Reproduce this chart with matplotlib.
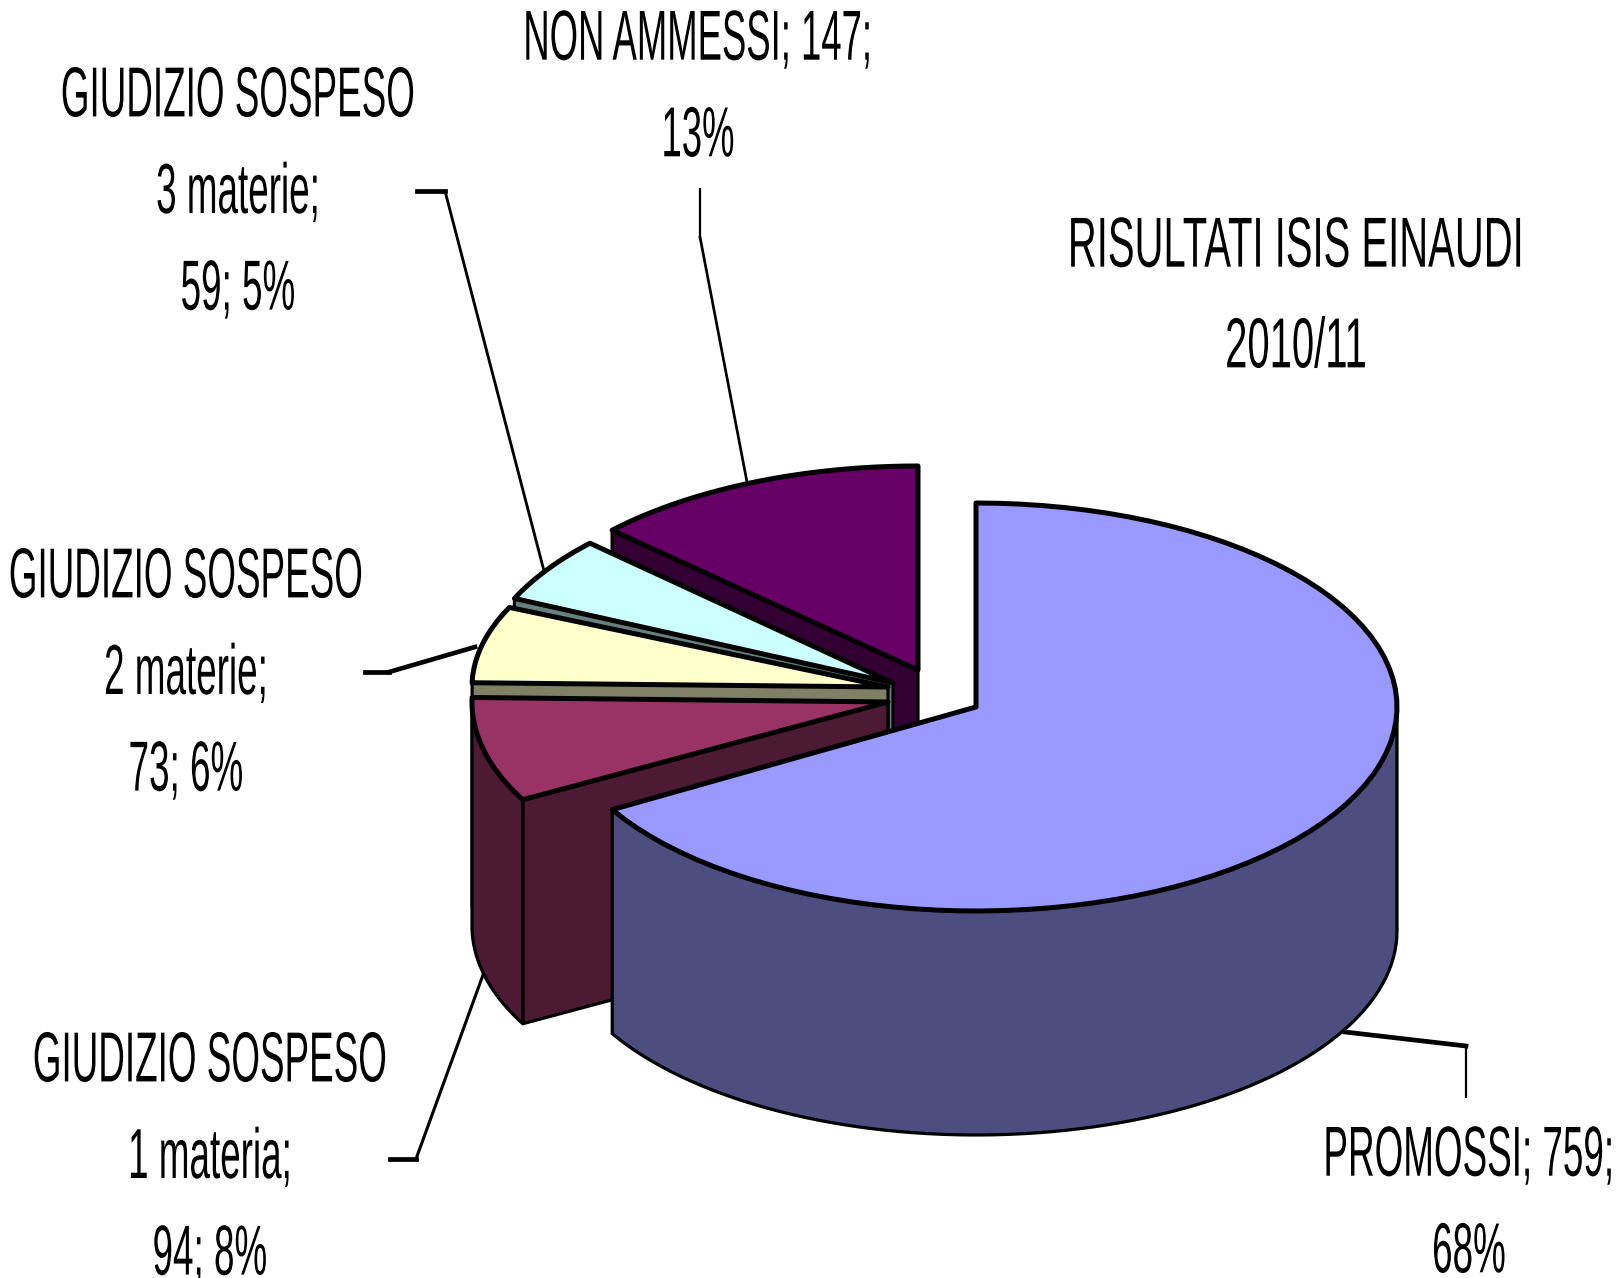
import numpy as np
import matplotlib
matplotlib.use("Agg")
import matplotlib.pyplot as plt
import matplotlib.patheffects as pe
from matplotlib.text import Text
from matplotlib.transforms import Affine2D, Bbox

# data
categories = ["PROMOSSI", "GIUDIZIO SOSPESO\n1 materia", "GIUDIZIO SOSPESO\n2 materie",
              "GIUDIZIO SOSPESO\n3 materie", "NON AMMESSI"]
values = [759, 94, 73, 59, 147]
percents = [68, 8, 6, 5, 13]
title_lines = ["RISULTATI ISIS EINAUDI", "2010/11"]

# look of the slices, same order as values
top_colors = ["#9999FF", "#993366", "#FFFFCC", "#CCFFFF", "#660066"]
side_colors = ["#4D4D80", "#4D1A33", "#808066", "#668080", "#330033"]
centers = [(976, 707), (888, 702), (888, 687), (893, 683), (918, 670)]
radii = [(421, 204), (416, 204), (416, 192), (416, 204), (420, 204)]
DEPTH = 224


class Squeeze(pe.AbstractPathEffect):
    # the original labels are a stretched narrow Arial
    def __init__(self, x0, fx):
        super().__init__()
        self.x0 = x0
        self.fx = fx

    def draw_path(self, renderer, gc, tpath, affine, rgbFace=None):
        sq = Affine2D().translate(-self.x0, 0).scale(self.fx, 1).translate(self.x0, 0)
        renderer.draw_path(gc, tpath, affine + sq, rgbFace)


class NarrowText(Text):
    fx = 1.0

    def get_window_extent(self, renderer=None, dpi=None):
        bb = super().get_window_extent(renderer, dpi)
        x0 = self.get_position()[0]
        return Bbox([[x0 + (bb.x0 - x0) * self.fx, bb.y0], [x0 + (bb.x1 - x0) * self.fx, bb.y1]])


def arc(cx, cy, rx, ry, a1, a2, n=80):
    t = np.radians(np.linspace(a1, a2, n))
    # y axis goes down, as in the picture
    return cx + rx * np.cos(t), cy - ry * np.sin(t)


def side(ax, xs, ys, color):
    px = np.concatenate([xs, xs[::-1]])
    py = np.concatenate([ys, ys[::-1] + DEPTH])
    ax.fill(px, py, facecolor=color, edgecolor="black", lw=2.3, joinstyle="round")


def label(ax, x, y, txt, fx=0.52, spacing=1.6):
    t = NarrowText(x, y + 4, txt, ha="center", va="center", fontsize=51, linespacing=spacing,
                   family=["Liberation Sans", "DejaVu Sans"], color="black")
    t.fx = fx
    t.set_path_effects([Squeeze(x, fx)])
    ax.add_artist(t)
    return t


fig = plt.figure(figsize=(16.18, 12.78), dpi=100)
ax = fig.add_axes([0, 0, 1, 1])
ax.set_xlim(0, 1618)
ax.set_ylim(1278, 0)
ax.axis("off")

sweep = np.array(values) / sum(values) * 360
starts = 90 - np.concatenate([[0], np.cumsum(sweep)[:-1]])
ends = starts - sweep

# back to front
for i in [4, 3, 2, 1, 0]:
    cx, cy = centers[i]
    rx, ry = radii[i]
    a1, a2 = starts[i], ends[i]
    if i == 0:
        a2 += 1.6  # the big slice looks a touch smaller than its share
        wall = arc(cx, cy, rx, ry, a2, 0)
        side(ax, wall[0], wall[1], side_colors[i])
    else:
        # cut face under the lower edge of the slice
        ex, ey = arc(cx, cy, rx, ry, a1, a1, 2)
        side(ax, np.array([cx, ex[0]]), np.array([cy, ey[0]]), side_colors[i])
    if i == 1:
        wall = arc(cx, cy, rx, ry, a1, -180)
        side(ax, wall[0], wall[1], side_colors[i])
    xs, ys = arc(cx, cy, rx, ry, a1, a2)
    ax.fill(np.r_[cx, xs], np.r_[cy, ys], facecolor=top_colors[i], edgecolor="black",
            lw=3.6, joinstyle="round")

# leader lines, flat parts look heavier in the original
leaders = [
    [(1345, 1032), (1466, 1046), (1466, 1097)],
    [(390, 1159), (416, 1159), (483, 975)],
    [(365, 672), (389, 672), (475, 647)],
    [(417, 191), (445, 191), (544, 571)],
    [(700, 189), (700, 237), (747, 482)],
]
for pts in leaders:
    for (x1, y1), (x2, y2) in zip(pts[:-1], pts[1:]):
        flat = abs(x2 - x1) / np.hypot(x2 - x1, y2 - y1)
        ax.plot([x1, x2], [y1, y2], color="black", lw=1.6 + 1.8 * flat, solid_capstyle="projecting")

# labels
label(ax, 1469, 1202, f"{categories[0]}; {values[0]};\n{percents[0]}%")
label(ax, 210, 1156, f"{categories[1]};\n{values[1]}; {percents[1]}%")
label(ax, 186, 672, f"{categories[2]};\n{values[2]}; {percents[2]}%")
label(ax, 238, 191, f"{categories[3]};\n{values[3]}; {percents[3]}%")
label(ax, 698, 86, f"{categories[4]}; {values[4]};\n{percents[4]}%", fx=0.515)
label(ax, 1296, 295, "\n".join(title_lines), fx=0.565, spacing=1.68)

fig.savefig("out.png", dpi=100)
